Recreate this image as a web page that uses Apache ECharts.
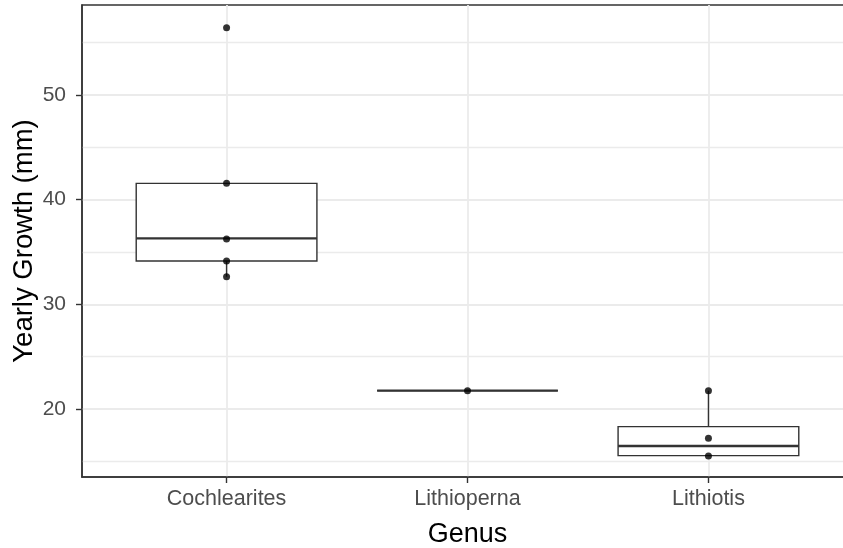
<!DOCTYPE html>
<html>
<head>
<meta charset="utf-8">
<script src="https://cdn.jsdelivr.net/npm/echarts@6/dist/echarts.min.js"></script>
<style>
  html, body { margin: 0; padding: 0; background: #ffffff; }
  #chart { width: 843px; height: 548px; }
</style>
</head>
<body>
<div id="chart"></div>
<script>
// Genus names and their positions along the discrete x scale
const genus = ['Cochlearites', 'Lithioperna', 'Lithiotis'];
const genusPos = [1, 2, 3];

// Individual yearly growth measurements (mm) per genus
const cochlearitesGrowth = [56.43, 41.56, 36.25, 34.14, 32.64];
const lithiopernaGrowth = [21.75];
const lithiotisGrowth = [21.75, 17.2, 15.51];

// Box summaries per genus: lower whisker end, Q1, median, Q3, upper whisker end
const boxLow = [32.64, 21.75, 15.51];
const boxQ1 = [34.14, 21.75, 15.54];
const boxMedian = [36.3, 21.75, 16.46];
const boxQ3 = [41.56, 21.75, 18.31];
const boxHigh = [41.56, 21.75, 21.75];

// Axis ticks
const yMajorTicks = [20, 30, 40, 50];
const yMinorTicks = [15, 25, 35, 45, 55];

const INK = '#333333';
const GRID_COLOR = '#EBEBEB';
const BOX_WIDTH = 0.75; // fraction of one category step

const boxData = genusPos.map((x, i) => [x, boxLow[i], boxQ1[i], boxMedian[i], boxQ3[i], boxHigh[i]]);
const pointData = [];
[cochlearitesGrowth, lithiopernaGrowth, lithiotisGrowth].forEach((vals, i) => {
  vals.forEach(v => pointData.push([genusPos[i], v]));
});

function renderBox(params, api) {
  const x = api.value(0);
  const lo = api.coord([x, api.value(1)]);
  const q1 = api.coord([x, api.value(2)]);
  const md = api.coord([x, api.value(3)]);
  const q3 = api.coord([x, api.value(4)]);
  const hi = api.coord([x, api.value(5)]);
  const half = api.size([BOX_WIDTH, 0])[0] / 2;
  const cx = q1[0];
  return {
    type: 'group',
    children: [
      { type: 'line', shape: { x1: cx, y1: q3[1], x2: cx, y2: hi[1] }, style: { stroke: INK, lineWidth: 1.4 } },
      { type: 'line', shape: { x1: cx, y1: q1[1], x2: cx, y2: lo[1] }, style: { stroke: INK, lineWidth: 1.4 } },
      { type: 'rect', shape: { x: cx - half, y: q3[1], width: half * 2, height: q1[1] - q3[1] },
        style: { fill: '#ffffff', stroke: INK, lineWidth: 1.4 } },
      { type: 'line', shape: { x1: cx - half, y1: md[1], x2: cx + half, y2: md[1] }, style: { stroke: INK, lineWidth: 2.4 } }
    ]
  };
}

const chart = echarts.init(document.getElementById('chart'), null, { renderer: 'canvas' });
chart.setOption({
  animation: false,
  backgroundColor: '#ffffff',
  textStyle: { fontFamily: 'Arial, "Liberation Sans", sans-serif' },
  grid: {
    left: 82, top: 5, width: 771, height: 472,
    show: true, borderColor: INK, borderWidth: 1.5, backgroundColor: '#ffffff',
    containLabel: false, outerBoundsMode: 'none'
  },
  xAxis: {
    type: 'value', min: 0.4, max: 3.6,
    axisLine: { show: true, onZero: false, lineStyle: { color: INK, width: 1.5 } },
    axisTick: { show: true, customValues: genusPos, length: 6, lineStyle: { color: INK, width: 1.4 } },
    axisLabel: {
      customValues: genusPos, fontSize: 21.5, color: '#4D4D4D', margin: 11,
      formatter: v => genus[genusPos.indexOf(Math.round(v))]
    },
    splitLine: { show: true, lineStyle: { color: GRID_COLOR, width: 1.8 } },
    name: 'Genus', nameLocation: 'middle', nameGap: 44, nameMoveOverlap: false,
    nameTextStyle: { fontSize: 27, color: '#000000' }
  },
  yAxis: [
    {
      type: 'value', min: 13.5, max: 58.6,
      axisLine: { show: true, lineStyle: { color: INK, width: 1.5 } },
      axisTick: { show: true, customValues: yMajorTicks, length: 6, lineStyle: { color: INK, width: 1.4 } },
      axisLabel: { customValues: yMajorTicks, fontSize: 21, color: '#4D4D4D', margin: 16 },
      splitLine: { show: true, lineStyle: { color: GRID_COLOR, width: 1.8 } },
      name: 'Yearly Growth (mm)', nameLocation: 'middle', nameGap: 44, nameMoveOverlap: false,
      nameTextStyle: { fontSize: 27.5, color: '#000000' }
    },
    {
      type: 'value', min: 13.5, max: 58.6, position: 'left',
      axisLine: { show: false },
      axisTick: { show: false, customValues: yMinorTicks },
      axisLabel: { show: false },
      splitLine: { show: true, lineStyle: { color: GRID_COLOR, width: 1.3 } }
    }
  ],
  series: [
    {
      type: 'custom', name: 'box', yAxisIndex: 0,
      renderItem: renderBox,
      encode: { x: 0, y: [1, 2, 3, 4, 5] },
      data: boxData, z: 3
    },
    {
      type: 'scatter', name: 'growth', yAxisIndex: 0,
      symbol: 'circle', symbolSize: 7,
      itemStyle: { color: '#000000' },
      data: pointData, z: 4
    }
  ]
});
</script>
</body>
</html>
